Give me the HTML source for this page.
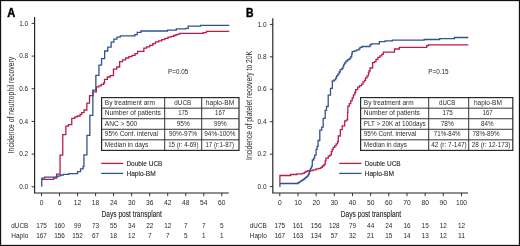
<!DOCTYPE html>
<html><head><meta charset="utf-8"><title>Figure</title>
<style>
html,body{margin:0;padding:0;background:#fff;}
body{width:520px;height:246px;overflow:hidden;}
svg{display:block;font-family:"Liberation Sans", sans-serif;will-change:transform;}
.s{stroke:#231f20;stroke-width:0.12px;}
.s2{stroke:none;}
.t{fill:#2d2d2d;}
</style></head>
<body>
<svg width="520" height="246" viewBox="0 0 520 246" fill="#231f20">
<rect x="0" y="0" width="520" height="246" fill="#fff"/>
<path d="M34.60 17.00V193.00H228.80" fill="none" stroke="#231f20" stroke-width="1.15"/>
<path d="M31.60 186.80H34.60" stroke="#231f20" stroke-width="0.9"/>
<text x="28.20" y="188.90" font-size="7.1" text-anchor="end" textLength="9.00" lengthAdjust="spacingAndGlyphs">0.0</text>
<path d="M31.60 154.12H34.60" stroke="#231f20" stroke-width="0.9"/>
<text x="28.20" y="156.22" font-size="7.1" text-anchor="end" textLength="9.00" lengthAdjust="spacingAndGlyphs">0.2</text>
<path d="M31.60 121.44H34.60" stroke="#231f20" stroke-width="0.9"/>
<text x="28.20" y="123.54" font-size="7.1" text-anchor="end" textLength="9.00" lengthAdjust="spacingAndGlyphs">0.4</text>
<path d="M31.60 88.76H34.60" stroke="#231f20" stroke-width="0.9"/>
<text x="28.20" y="90.86" font-size="7.1" text-anchor="end" textLength="9.00" lengthAdjust="spacingAndGlyphs">0.6</text>
<path d="M31.60 56.08H34.60" stroke="#231f20" stroke-width="0.9"/>
<text x="28.20" y="58.18" font-size="7.1" text-anchor="end" textLength="9.00" lengthAdjust="spacingAndGlyphs">0.8</text>
<path d="M31.60 23.40H34.60" stroke="#231f20" stroke-width="0.9"/>
<text x="28.20" y="25.50" font-size="7.1" text-anchor="end" textLength="9.00" lengthAdjust="spacingAndGlyphs">1.0</text>
<path d="M41.50 193.00V196.20" stroke="#231f20" stroke-width="0.9"/>
<text x="41.50" y="205.00" font-size="6.7" text-anchor="middle">0</text>
<path d="M59.53 193.00V196.20" stroke="#231f20" stroke-width="0.9"/>
<text x="59.53" y="205.00" font-size="6.7" text-anchor="middle">6</text>
<path d="M77.56 193.00V196.20" stroke="#231f20" stroke-width="0.9"/>
<text x="77.56" y="205.00" font-size="6.7" text-anchor="middle">12</text>
<path d="M95.59 193.00V196.20" stroke="#231f20" stroke-width="0.9"/>
<text x="95.59" y="205.00" font-size="6.7" text-anchor="middle">18</text>
<path d="M113.62 193.00V196.20" stroke="#231f20" stroke-width="0.9"/>
<text x="113.62" y="205.00" font-size="6.7" text-anchor="middle">24</text>
<path d="M131.65 193.00V196.20" stroke="#231f20" stroke-width="0.9"/>
<text x="131.65" y="205.00" font-size="6.7" text-anchor="middle">30</text>
<path d="M149.68 193.00V196.20" stroke="#231f20" stroke-width="0.9"/>
<text x="149.68" y="205.00" font-size="6.7" text-anchor="middle">36</text>
<path d="M167.71 193.00V196.20" stroke="#231f20" stroke-width="0.9"/>
<text x="167.71" y="205.00" font-size="6.7" text-anchor="middle">42</text>
<path d="M185.74 193.00V196.20" stroke="#231f20" stroke-width="0.9"/>
<text x="185.74" y="205.00" font-size="6.7" text-anchor="middle">48</text>
<path d="M203.77 193.00V196.20" stroke="#231f20" stroke-width="0.9"/>
<text x="203.77" y="205.00" font-size="6.7" text-anchor="middle">54</text>
<path d="M221.80 193.00V196.20" stroke="#231f20" stroke-width="0.9"/>
<text x="221.80" y="205.00" font-size="6.7" text-anchor="middle">60</text>
<text x="11.30" y="227.70" font-size="7.5" class="s2" textLength="17.00" lengthAdjust="spacingAndGlyphs">dUCB</text>
<text x="11.30" y="237.50" font-size="7.5" class="s2" textLength="17.00" lengthAdjust="spacingAndGlyphs">Haplo</text>
<text x="41.50" y="227.70" font-size="7.6" class="s2" text-anchor="middle" textLength="10.65" lengthAdjust="spacingAndGlyphs">175</text>
<text x="41.50" y="237.60" font-size="7.6" class="s2" text-anchor="middle" textLength="10.65" lengthAdjust="spacingAndGlyphs">167</text>
<text x="59.53" y="227.70" font-size="7.6" class="s2" text-anchor="middle" textLength="10.65" lengthAdjust="spacingAndGlyphs">160</text>
<text x="59.53" y="237.60" font-size="7.6" class="s2" text-anchor="middle" textLength="10.65" lengthAdjust="spacingAndGlyphs">156</text>
<text x="77.56" y="227.70" font-size="7.6" class="s2" text-anchor="middle" textLength="7.10" lengthAdjust="spacingAndGlyphs">99</text>
<text x="77.56" y="237.60" font-size="7.6" class="s2" text-anchor="middle" textLength="10.65" lengthAdjust="spacingAndGlyphs">152</text>
<text x="95.59" y="227.70" font-size="7.6" class="s2" text-anchor="middle" textLength="7.10" lengthAdjust="spacingAndGlyphs">73</text>
<text x="95.59" y="237.60" font-size="7.6" class="s2" text-anchor="middle" textLength="7.10" lengthAdjust="spacingAndGlyphs">67</text>
<text x="113.62" y="227.70" font-size="7.6" class="s2" text-anchor="middle" textLength="7.10" lengthAdjust="spacingAndGlyphs">55</text>
<text x="113.62" y="237.60" font-size="7.6" class="s2" text-anchor="middle" textLength="7.10" lengthAdjust="spacingAndGlyphs">18</text>
<text x="131.65" y="227.70" font-size="7.6" class="s2" text-anchor="middle" textLength="7.10" lengthAdjust="spacingAndGlyphs">34</text>
<text x="131.65" y="237.60" font-size="7.6" class="s2" text-anchor="middle" textLength="7.10" lengthAdjust="spacingAndGlyphs">12</text>
<text x="149.68" y="227.70" font-size="7.6" class="s2" text-anchor="middle" textLength="7.10" lengthAdjust="spacingAndGlyphs">22</text>
<text x="149.68" y="237.60" font-size="7.6" class="s2" text-anchor="middle" textLength="3.55" lengthAdjust="spacingAndGlyphs">7</text>
<text x="167.71" y="227.70" font-size="7.6" class="s2" text-anchor="middle" textLength="7.10" lengthAdjust="spacingAndGlyphs">12</text>
<text x="167.71" y="237.60" font-size="7.6" class="s2" text-anchor="middle" textLength="3.55" lengthAdjust="spacingAndGlyphs">7</text>
<text x="185.74" y="227.70" font-size="7.6" class="s2" text-anchor="middle" textLength="3.55" lengthAdjust="spacingAndGlyphs">7</text>
<text x="185.74" y="237.60" font-size="7.6" class="s2" text-anchor="middle" textLength="3.55" lengthAdjust="spacingAndGlyphs">5</text>
<text x="203.77" y="227.70" font-size="7.6" class="s2" text-anchor="middle" textLength="3.55" lengthAdjust="spacingAndGlyphs">7</text>
<text x="203.77" y="237.60" font-size="7.6" class="s2" text-anchor="middle" textLength="3.55" lengthAdjust="spacingAndGlyphs">1</text>
<text x="221.80" y="227.70" font-size="7.6" class="s2" text-anchor="middle" textLength="3.55" lengthAdjust="spacingAndGlyphs">5</text>
<text x="221.80" y="237.60" font-size="7.6" class="s2" text-anchor="middle" textLength="3.55" lengthAdjust="spacingAndGlyphs">1</text>
<text x="101.50" y="217.30" font-size="9.0" class="s" textLength="60.40" lengthAdjust="spacingAndGlyphs">Days post transplant</text>
<text transform="translate(14.00 105.05) rotate(-90)" x="0" y="0" font-size="9.6" text-anchor="middle" textLength="96.50" lengthAdjust="spacingAndGlyphs" fill="#231f20">Incidence of neutrophil recovery</text>
<text x="7.30" y="16.60" font-size="12.1" textLength="8.00" lengthAdjust="spacingAndGlyphs" font-weight="bold" fill="#000" stroke="#000" stroke-width="0.45">A</text>
<text x="168.10" y="73.50" font-size="7.0" textLength="20.30" lengthAdjust="spacingAndGlyphs">P=0.05</text>
<path d="M101.60 108.16H239.00" stroke="#2a2a2a" stroke-width="0.95"/>
<path d="M101.60 118.72H239.00" stroke="#2a2a2a" stroke-width="0.95"/>
<path d="M101.60 129.28H239.00" stroke="#2a2a2a" stroke-width="0.95"/>
<path d="M101.60 139.84H239.00" stroke="#2a2a2a" stroke-width="0.95"/>
<path d="M164.70 97.60V150.40" stroke="#2a2a2a" stroke-width="0.95"/>
<path d="M201.70 97.60V150.40" stroke="#2a2a2a" stroke-width="0.95"/>
<rect x="101.60" y="97.60" width="137.40" height="52.80" fill="none" stroke="#2a2a2a" stroke-width="1.2"/>
<text x="104.80" y="104.75" font-size="6.4" class="t" textLength="50.20" lengthAdjust="spacingAndGlyphs">By treatment arm</text>
<text x="182.80" y="104.75" font-size="6.4" class="t" text-anchor="middle" textLength="16.90" lengthAdjust="spacingAndGlyphs">dUCB</text>
<text x="220.00" y="104.75" font-size="6.4" class="t" text-anchor="middle" textLength="28.50" lengthAdjust="spacingAndGlyphs">haplo-BM</text>
<text x="104.80" y="115.31" font-size="6.4" class="t" textLength="56.10" lengthAdjust="spacingAndGlyphs">Number of patients</text>
<text x="183.20" y="115.31" font-size="6.4" class="t" text-anchor="middle" textLength="10.00" lengthAdjust="spacingAndGlyphs">175</text>
<text x="220.10" y="115.31" font-size="6.4" class="t" text-anchor="middle" textLength="10.00" lengthAdjust="spacingAndGlyphs">167</text>
<text x="104.80" y="125.87" font-size="6.4" class="t" textLength="32.50" lengthAdjust="spacingAndGlyphs">ANC &gt; 500</text>
<text x="183.20" y="125.87" font-size="6.4" class="t" text-anchor="middle" textLength="13.10" lengthAdjust="spacingAndGlyphs">95%</text>
<text x="220.30" y="125.87" font-size="6.4" class="t" text-anchor="middle" textLength="12.60" lengthAdjust="spacingAndGlyphs">99%</text>
<text x="104.80" y="136.43" font-size="6.4" class="t" textLength="53.20" lengthAdjust="spacingAndGlyphs">95% Conf. interval</text>
<text x="183.00" y="136.43" font-size="6.4" class="t" text-anchor="middle" textLength="28.20" lengthAdjust="spacingAndGlyphs">90%-97%</text>
<text x="219.90" y="136.43" font-size="6.4" class="t" text-anchor="middle" textLength="31.20" lengthAdjust="spacingAndGlyphs">94%-100%</text>
<text x="104.80" y="146.99" font-size="6.4" class="t" textLength="43.50" lengthAdjust="spacingAndGlyphs">Median in days</text>
<text x="183.40" y="146.99" font-size="6.4" class="t" text-anchor="middle" textLength="30.40" lengthAdjust="spacingAndGlyphs">15 (r: 4-69)</text>
<text x="219.70" y="146.99" font-size="6.4" class="t" text-anchor="middle" textLength="28.60" lengthAdjust="spacingAndGlyphs">17 (r:1-87)</text>
<path d="M101.20 163.4H123.20" stroke="#bb1c47" stroke-width="1.3"/>
<path d="M101.20 173.4H123.20" stroke="#33538f" stroke-width="1.3"/>
<text x="126.40" y="165.70" font-size="7.2" class="s" textLength="36.00" lengthAdjust="spacingAndGlyphs">Double UCB</text>
<text x="126.40" y="175.60" font-size="7.2" class="s" textLength="29.30" lengthAdjust="spacingAndGlyphs">Haplo-BM</text>
<path d="M41.50 179.30H53.30V178.00H56.40V174.20H59.80V155.20H62.50V134.60H65.60V126.10H68.20V124.60H71.50V118.30H74.60V116.80H77.00V116.00H79.90V114.30H81.40V112.70H83.80V110.00H86.60V103.20H89.30V95.60H92.80V91.80H96.10V86.90H98.60V85.90H101.00V84.40H103.40V83.00H104.30V79.30H107.10V77.00H110.00V75.60H113.20V69.20H116.50V67.00H119.40V61.60H122.30V59.80H125.40V58.00H128.60V56.70H131.70V55.40H134.80V53.60H137.30V51.40H143.60V48.10H146.30V46.80H149.40V45.40H152.60V43.60H155.20V41.80H158.40V40.90H161.50V39.60H164.60V38.30H167.80V37.20H170.80V36.30H173.50V35.50H175.70V34.70H177.60V34.20H179.50V33.30H203.00V32.60H206.20V31.40H229.00" fill="none" stroke="#bb1c47" stroke-width="1.3" transform="translate(0.25 0)"/>
<path d="M41.50 186.80V178.20H44.30V177.20H56.00V176.60H58.00V175.80H60.40V175.00H63.00V174.30H68.50V173.60H77.30V171.70H80.30V168.90H82.90V166.50H83.70V154.80H86.70V135.30H89.60V115.30H92.60V90.20H95.60V75.30H98.70V65.20H101.30V58.60H104.40V51.00H107.50V47.10H110.90V42.20H113.60V39.10H116.70V37.10H120.00V35.90H134.60V34.60H137.00V32.40H140.70V31.00H167.20V30.10H176.10V28.80H185.30V28.30H188.00V26.20H200.40V25.30H229.00" fill="none" stroke="#33538f" stroke-width="1.3" transform="translate(0.25 0)"/>
<path d="M272.80 18.20V193.00H468.00" fill="none" stroke="#231f20" stroke-width="1.15"/>
<path d="M269.80 186.60H272.80" stroke="#231f20" stroke-width="0.9"/>
<text x="266.50" y="188.70" font-size="7.1" text-anchor="end" textLength="9.00" lengthAdjust="spacingAndGlyphs">0.0</text>
<path d="M269.80 154.16H272.80" stroke="#231f20" stroke-width="0.9"/>
<text x="266.50" y="156.26" font-size="7.1" text-anchor="end" textLength="9.00" lengthAdjust="spacingAndGlyphs">0.2</text>
<path d="M269.80 121.72H272.80" stroke="#231f20" stroke-width="0.9"/>
<text x="266.50" y="123.82" font-size="7.1" text-anchor="end" textLength="9.00" lengthAdjust="spacingAndGlyphs">0.4</text>
<path d="M269.80 89.28H272.80" stroke="#231f20" stroke-width="0.9"/>
<text x="266.50" y="91.38" font-size="7.1" text-anchor="end" textLength="9.00" lengthAdjust="spacingAndGlyphs">0.6</text>
<path d="M269.80 56.84H272.80" stroke="#231f20" stroke-width="0.9"/>
<text x="266.50" y="58.94" font-size="7.1" text-anchor="end" textLength="9.00" lengthAdjust="spacingAndGlyphs">0.8</text>
<path d="M269.80 24.40H272.80" stroke="#231f20" stroke-width="0.9"/>
<text x="266.50" y="26.50" font-size="7.1" text-anchor="end" textLength="9.00" lengthAdjust="spacingAndGlyphs">1.0</text>
<path d="M279.80 193.00V196.20" stroke="#231f20" stroke-width="0.9"/>
<text x="279.80" y="205.00" font-size="6.7" text-anchor="middle">0</text>
<path d="M297.97 193.00V196.20" stroke="#231f20" stroke-width="0.9"/>
<text x="297.97" y="205.00" font-size="6.7" text-anchor="middle">10</text>
<path d="M316.14 193.00V196.20" stroke="#231f20" stroke-width="0.9"/>
<text x="316.14" y="205.00" font-size="6.7" text-anchor="middle">20</text>
<path d="M334.31 193.00V196.20" stroke="#231f20" stroke-width="0.9"/>
<text x="334.31" y="205.00" font-size="6.7" text-anchor="middle">30</text>
<path d="M352.48 193.00V196.20" stroke="#231f20" stroke-width="0.9"/>
<text x="352.48" y="205.00" font-size="6.7" text-anchor="middle">40</text>
<path d="M370.65 193.00V196.20" stroke="#231f20" stroke-width="0.9"/>
<text x="370.65" y="205.00" font-size="6.7" text-anchor="middle">50</text>
<path d="M388.82 193.00V196.20" stroke="#231f20" stroke-width="0.9"/>
<text x="388.82" y="205.00" font-size="6.7" text-anchor="middle">60</text>
<path d="M406.99 193.00V196.20" stroke="#231f20" stroke-width="0.9"/>
<text x="406.99" y="205.00" font-size="6.7" text-anchor="middle">70</text>
<path d="M425.16 193.00V196.20" stroke="#231f20" stroke-width="0.9"/>
<text x="425.16" y="205.00" font-size="6.7" text-anchor="middle">80</text>
<path d="M443.33 193.00V196.20" stroke="#231f20" stroke-width="0.9"/>
<text x="443.33" y="205.00" font-size="6.7" text-anchor="middle">90</text>
<path d="M461.50 193.00V196.20" stroke="#231f20" stroke-width="0.9"/>
<text x="461.50" y="205.00" font-size="6.7" text-anchor="middle">100</text>
<text x="249.80" y="227.70" font-size="7.5" class="s2" textLength="17.00" lengthAdjust="spacingAndGlyphs">dUCB</text>
<text x="249.80" y="237.50" font-size="7.5" class="s2" textLength="17.00" lengthAdjust="spacingAndGlyphs">Haplo</text>
<text x="279.80" y="227.70" font-size="7.6" class="s2" text-anchor="middle" textLength="10.65" lengthAdjust="spacingAndGlyphs">175</text>
<text x="279.80" y="237.60" font-size="7.6" class="s2" text-anchor="middle" textLength="10.65" lengthAdjust="spacingAndGlyphs">167</text>
<text x="297.97" y="227.70" font-size="7.6" class="s2" text-anchor="middle" textLength="10.65" lengthAdjust="spacingAndGlyphs">161</text>
<text x="297.97" y="237.60" font-size="7.6" class="s2" text-anchor="middle" textLength="10.65" lengthAdjust="spacingAndGlyphs">163</text>
<text x="316.14" y="227.70" font-size="7.6" class="s2" text-anchor="middle" textLength="10.65" lengthAdjust="spacingAndGlyphs">156</text>
<text x="316.14" y="237.60" font-size="7.6" class="s2" text-anchor="middle" textLength="10.65" lengthAdjust="spacingAndGlyphs">134</text>
<text x="334.31" y="227.70" font-size="7.6" class="s2" text-anchor="middle" textLength="10.65" lengthAdjust="spacingAndGlyphs">128</text>
<text x="334.31" y="237.60" font-size="7.6" class="s2" text-anchor="middle" textLength="7.10" lengthAdjust="spacingAndGlyphs">57</text>
<text x="352.48" y="227.70" font-size="7.6" class="s2" text-anchor="middle" textLength="7.10" lengthAdjust="spacingAndGlyphs">79</text>
<text x="352.48" y="237.60" font-size="7.6" class="s2" text-anchor="middle" textLength="7.10" lengthAdjust="spacingAndGlyphs">32</text>
<text x="370.65" y="227.70" font-size="7.6" class="s2" text-anchor="middle" textLength="7.10" lengthAdjust="spacingAndGlyphs">44</text>
<text x="370.65" y="237.60" font-size="7.6" class="s2" text-anchor="middle" textLength="7.10" lengthAdjust="spacingAndGlyphs">21</text>
<text x="388.82" y="227.70" font-size="7.6" class="s2" text-anchor="middle" textLength="7.10" lengthAdjust="spacingAndGlyphs">24</text>
<text x="388.82" y="237.60" font-size="7.6" class="s2" text-anchor="middle" textLength="7.10" lengthAdjust="spacingAndGlyphs">15</text>
<text x="406.99" y="227.70" font-size="7.6" class="s2" text-anchor="middle" textLength="7.10" lengthAdjust="spacingAndGlyphs">16</text>
<text x="406.99" y="237.60" font-size="7.6" class="s2" text-anchor="middle" textLength="7.10" lengthAdjust="spacingAndGlyphs">14</text>
<text x="425.16" y="227.70" font-size="7.6" class="s2" text-anchor="middle" textLength="7.10" lengthAdjust="spacingAndGlyphs">15</text>
<text x="425.16" y="237.60" font-size="7.6" class="s2" text-anchor="middle" textLength="7.10" lengthAdjust="spacingAndGlyphs">13</text>
<text x="443.33" y="227.70" font-size="7.6" class="s2" text-anchor="middle" textLength="7.10" lengthAdjust="spacingAndGlyphs">12</text>
<text x="443.33" y="237.60" font-size="7.6" class="s2" text-anchor="middle" textLength="7.10" lengthAdjust="spacingAndGlyphs">12</text>
<text x="461.50" y="227.70" font-size="7.6" class="s2" text-anchor="middle" textLength="7.10" lengthAdjust="spacingAndGlyphs">12</text>
<text x="461.50" y="237.60" font-size="7.6" class="s2" text-anchor="middle" textLength="7.10" lengthAdjust="spacingAndGlyphs">11</text>
<text x="340.70" y="217.30" font-size="9.0" class="s" textLength="60.40" lengthAdjust="spacingAndGlyphs">Days post transplant</text>
<text transform="translate(252.40 105.40) rotate(-90)" x="0" y="0" font-size="9.6" text-anchor="middle" textLength="109.00" lengthAdjust="spacingAndGlyphs" fill="#231f20">Incidence of platelet recovery to 20K</text>
<text x="245.90" y="16.60" font-size="12.1" textLength="7.50" lengthAdjust="spacingAndGlyphs" font-weight="bold" fill="#000" stroke="#000" stroke-width="0.45">B</text>
<text x="428.20" y="73.50" font-size="7.0" textLength="20.30" lengthAdjust="spacingAndGlyphs">P=0.15</text>
<path d="M360.60 108.16H512.80" stroke="#2a2a2a" stroke-width="0.95"/>
<path d="M360.60 118.72H512.80" stroke="#2a2a2a" stroke-width="0.95"/>
<path d="M360.60 129.28H512.80" stroke="#2a2a2a" stroke-width="0.95"/>
<path d="M360.60 139.84H512.80" stroke="#2a2a2a" stroke-width="0.95"/>
<path d="M428.70 97.60V150.40" stroke="#2a2a2a" stroke-width="0.95"/>
<path d="M468.70 97.60V150.40" stroke="#2a2a2a" stroke-width="0.95"/>
<rect x="360.60" y="97.60" width="152.20" height="52.80" fill="none" stroke="#2a2a2a" stroke-width="1.2"/>
<text x="363.80" y="104.75" font-size="6.4" class="t" textLength="49.90" lengthAdjust="spacingAndGlyphs">By treatment arm</text>
<text x="447.20" y="104.75" font-size="6.4" class="t" text-anchor="middle" textLength="16.40" lengthAdjust="spacingAndGlyphs">dUCB</text>
<text x="487.90" y="104.75" font-size="6.4" class="t" text-anchor="middle" textLength="28.00" lengthAdjust="spacingAndGlyphs">haplo-BM</text>
<text x="363.80" y="115.31" font-size="6.4" class="t" textLength="56.00" lengthAdjust="spacingAndGlyphs">Number of patients</text>
<text x="447.60" y="115.31" font-size="6.4" class="t" text-anchor="middle" textLength="10.40" lengthAdjust="spacingAndGlyphs">175</text>
<text x="487.70" y="115.31" font-size="6.4" class="t" text-anchor="middle" textLength="10.00" lengthAdjust="spacingAndGlyphs">167</text>
<text x="363.80" y="125.87" font-size="6.4" class="t" textLength="61.90" lengthAdjust="spacingAndGlyphs">PLT &gt; 20K at 100days</text>
<text x="447.20" y="125.87" font-size="6.4" class="t" text-anchor="middle" textLength="13.00" lengthAdjust="spacingAndGlyphs">78%</text>
<text x="487.30" y="125.87" font-size="6.4" class="t" text-anchor="middle" textLength="12.50" lengthAdjust="spacingAndGlyphs">84%</text>
<text x="363.80" y="136.43" font-size="6.4" class="t" textLength="52.40" lengthAdjust="spacingAndGlyphs">95% Conf. interval</text>
<text x="447.20" y="136.43" font-size="6.4" class="t" text-anchor="middle" textLength="26.80" lengthAdjust="spacingAndGlyphs">71%-84%</text>
<text x="486.00" y="136.43" font-size="6.4" class="t" text-anchor="middle" textLength="27.10" lengthAdjust="spacingAndGlyphs">78%-89%</text>
<text x="363.80" y="146.99" font-size="6.4" class="t" textLength="43.10" lengthAdjust="spacingAndGlyphs">Median in days</text>
<text x="449.00" y="146.99" font-size="6.4" class="t" text-anchor="middle" textLength="35.50" lengthAdjust="spacingAndGlyphs">42 (r: 7-147)</text>
<text x="491.10" y="146.99" font-size="6.4" class="t" text-anchor="middle" textLength="38.60" lengthAdjust="spacingAndGlyphs">28 (r: 12-173)</text>
<path d="M339.20 163.4H361.50" stroke="#bb1c47" stroke-width="1.3"/>
<path d="M339.20 173.4H361.50" stroke="#33538f" stroke-width="1.3"/>
<text x="364.70" y="165.70" font-size="7.2" class="s" textLength="36.00" lengthAdjust="spacingAndGlyphs">Double UCB</text>
<text x="364.70" y="175.60" font-size="7.2" class="s" textLength="29.30" lengthAdjust="spacingAndGlyphs">Haplo-BM</text>
<path d="M279.90 182.70V175.50H290.60V174.50H297.00V173.80H302.40V173.30H304.30V172.30H305.80V171.40H307.70V170.60H313.10V169.90H316.00V168.90H319.00V168.40H320.90V167.40H322.40V166.00H323.90V164.50H325.20V160.80H325.90V158.10H328.30V156.10H329.80V155.10H331.30V151.70H332.20V149.30H333.20V147.30H334.70V145.90H336.10V143.90H337.60V141.50H338.30V136.00H340.30V129.70H342.20V125.80H344.70V120.90H346.60V119.90H347.60V112.30H347.90V106.10H349.30V103.60H350.80V100.70H352.20V97.80H353.40V94.80H354.80V92.50H355.70V89.60H357.70V87.10H359.60V85.70H361.60V84.20H363.00V81.80H364.50V80.30H365.50V77.90H367.00V75.90H368.40V73.00H369.00V71.00H370.10V68.00H372.60V62.70H374.50V61.70H376.00V59.30H377.90V57.30H379.90V55.90H381.80V54.40H383.30V52.10H394.50V49.00H399.30V47.40H426.70V45.60H428.30V44.80H468.30" fill="none" stroke="#bb1c47" stroke-width="1.3" transform="translate(0 0)"/>
<path d="M279.90 187.00V183.50H297.00V183.50H298.20V182.60H299.30V181.80H300.40V181.10H301.60V180.40H302.90V179.60H304.10V178.60H305.30V177.70H306.30V177.00H307.30V176.20H308.00V175.00H308.70V173.80H309.20V172.50H309.70V171.30H310.20V168.90H311.20V166.90H312.10V165.00H312.30V160.00H313.70V158.10H314.60V155.10H316.10V149.30H317.10V146.30H318.10V140.50H319.80V130.20H321.70V127.20H323.20V118.40H325.20V110.40H326.50V106.50H328.20V95.10H330.50V88.40H332.30V81.00H334.00V79.90H335.70V78.20H336.50V75.90H337.90V74.20H339.10V72.00H340.20V69.70H341.90V68.50H343.00V66.30H343.80V64.40H344.60V62.90H345.90V61.00H347.80V59.50H349.80V58.10H350.80V56.60H351.70V54.20H352.20V51.70H354.20V50.80H356.60V49.80H359.00V48.80H360.00V47.40H362.00V46.50H370.10V44.60H371.50V43.90H379.40V41.70H385.10V40.90H392.40V40.10H424.20V39.50H439.70V38.60H454.40V37.50H468.30" fill="none" stroke="#33538f" stroke-width="1.3" transform="translate(0 0)"/>
<rect x="0.5" y="0.5" width="519" height="245" fill="none" stroke="#111" stroke-width="1.3"/>
</svg>
</body></html>
